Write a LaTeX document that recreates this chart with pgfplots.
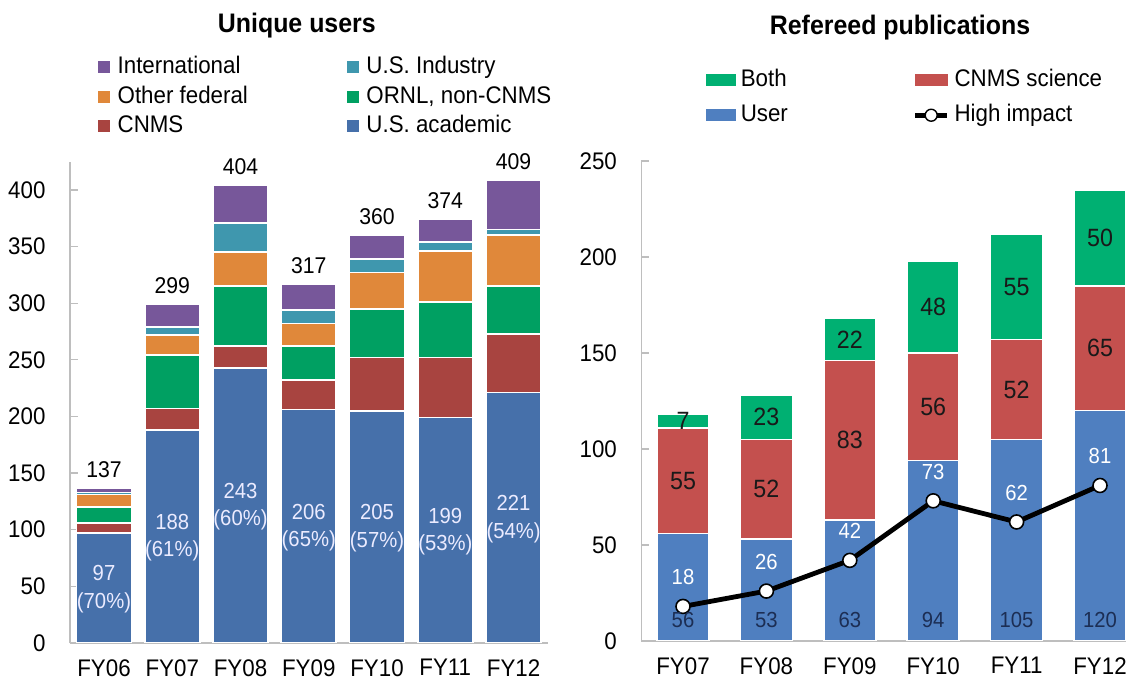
\documentclass[border=0pt]{standalone}
\usepackage{fontspec}
\setmainfont{Liberation Sans}[FakeStretch=0.93]
\usepackage{pgfplots}
\usepackage{pgfplotstable}
\pgfplotsset{compat=1.18}

\definecolor{acad}{RGB}{70,112,170}
\definecolor{cnmsL}{RGB}{168,68,64}
\definecolor{ornl}{RGB}{0,160,98}
\definecolor{fed}{RGB}{224,136,58}
\definecolor{ind}{RGB}{63,151,174}
\definecolor{intl}{RGB}{119,87,154}
\definecolor{userB}{RGB}{79,127,192}
\definecolor{cnmsR}{RGB}{196,80,78}
\definecolor{bothG}{RGB}{0,176,114}
\definecolor{navy}{RGB}{28,46,84}
\definecolor{axgray}{RGB}{190,190,190}

\pgfplotstableread{
x acad cnms ornl fed ind intl total pct
0 97 9 14 11 2 4 137 70
1 188 19 47 18 7 20 299 61
2 243 19 53 30 26 33 404 60
3 206 26 30 20 12 23 317 65
4 205 47 43 32 12 21 360 57
5 199 53 49 45 8 20 374 53
6 221 52 42 45 5 44 409 54
}\users

\pgfplotstableread{
x user cnms both hi
0 56 55 7 18
1 53 52 23 26
2 63 83 22 42
3 94 56 48 73
4 105 52 55 62
5 120 65 50 81
}\pubs

\pgfplotsset{
  /pgf/number format/assume math mode=true,
  geomL/.style={at={(34.94bp,19bp)}, anchor=south west, scale only axis,
    width=238.9bp, height=240.7bp, xmin=-0.5, xmax=6.5, ymin=0, ymax=425},
  geomR/.style={at={(320.65bp,20bp)}, anchor=south west, scale only axis,
    width=242.28bp, height=240bp, xmin=-0.5, xmax=5.31, ymin=0, ymax=250},
  baraxis/.style={axis lines=left, axis line style={-, draw=axgray, line width=0.8bp},
    xtick style={draw=none}, ytick style={draw=axgray, line width=0.6bp},
    major tick length=4bp, tick align=inside,
    /pgf/number format/assume math mode=true,
    tick label style={font=\fontsize{12bp}{14bp}\selectfont},
    yticklabel style={anchor=east, inner sep=0pt, xshift=-12bp},
    xticklabel style={anchor=north, inner sep=0pt, yshift=-8bp},
    title style={font=\bfseries\fontsize{13.4bp}{15bp}\selectfont, anchor=base, inner sep=0pt}},
  lbl/.style={draw=none, mark=none, nodes near coords, point meta=explicit,
    every node near coord/.style={inner sep=0pt, anchor=center, #1}},
}

\begin{document}
\fontsize{12bp}{14bp}\selectfont
\begin{tikzpicture}
\path[use as bounding box] (0,0) rectangle (563bp,340.5bp);

% ---------------- Left: Unique users ----------------
\begin{axis}[geomL, baraxis, ybar stacked, bar width=27.5bp,
  xtick={0,...,6}, xticklabels={FY06,FY07,FY08,FY09,FY10,FY11,FY12},
  ytick={0,50,...,400},
  title={Unique users}, title style={at={(0.475,1)}, yshift=58.4bp}]
\addplot[fill=acad, draw=white, line width=0.8bp] table[x=x,y=acad]{\users};
\addplot[fill=cnmsL, draw=white, line width=0.8bp] table[x=x,y=cnms]{\users};
\addplot[fill=ornl, draw=white, line width=0.8bp] table[x=x,y=ornl]{\users};
\addplot[fill=fed, draw=white, line width=0.8bp] table[x=x,y=fed]{\users};
\addplot[fill=ind, draw=white, line width=0.8bp] table[x=x,y=ind]{\users};
\addplot[fill=intl, draw=white, line width=0.8bp] table[x=x,y=intl]{\users};
\end{axis}

\begin{axis}[geomL, hide axis, clip=false,
  legend columns=2,
  legend style={at={(0.0586,1.219)}, anchor=north west, draw=none, fill=none,
    inner sep=0pt, outer sep=0pt, row sep=3.85bp,
    nodes={inner sep=0pt, text height=8.7bp, text depth=2.2bp, font=\fontsize{12bp}{14bp}\selectfont},
    cells={anchor=west},
    /tikz/every odd column/.style={column sep=4bp},
    /tikz/every even column/.style={column sep=0pt}}]
\addlegendimage{legend image code/.code={\fill[intl] (0bp,-2.75bp) rectangle (5.5bp,2.75bp);}}
\addlegendentry{\makebox[114.5bp][l]{International}}
\addlegendimage{legend image code/.code={\fill[ind] (0bp,-2.75bp) rectangle (5.5bp,2.75bp);}}
\addlegendentry{U.S. Industry}
\addlegendimage{legend image code/.code={\fill[fed] (0bp,-2.75bp) rectangle (5.5bp,2.75bp);}}
\addlegendentry{\makebox[114.5bp][l]{Other federal}}
\addlegendimage{legend image code/.code={\fill[ornl] (0bp,-2.75bp) rectangle (5.5bp,2.75bp);}}
\addlegendentry{ORNL, non-CNMS}
\addlegendimage{legend image code/.code={\fill[cnmsL] (0bp,-2.75bp) rectangle (5.5bp,2.75bp);}}
\addlegendentry{\makebox[114.5bp][l]{CNMS}}
\addlegendimage{legend image code/.code={\fill[acad] (0bp,-2.75bp) rectangle (5.5bp,2.75bp);}}
\addlegendentry{U.S. academic}
% totals
\addplot[lbl={anchor=south, yshift=5bp, text=black, font=\fontsize{11.4bp}{13bp}\selectfont}]
  table[x=x, y=total, meta=total]{\users};
% academic numbers
\addplot[lbl={yshift=7.3bp, text=white!92!blue, font=\fontsize{10.9bp}{13bp}\selectfont}]
  table[x=x, y expr=\thisrow{acad}/2, meta=acad]{\users};
% academic percentages
\addplot[lbl={yshift=-7.3bp, text=white!92!blue, font=\fontsize{10.9bp}{13bp}\selectfont},
  nodes near coords={(\pgfmathprintnumber{\pgfplotspointmeta}\%)}]
  table[x=x, y expr=\thisrow{acad}/2, meta=pct]{\users};
\end{axis}

% ---------------- Right: Refereed publications ----------------
\begin{axis}[geomR, baraxis, ybar stacked, bar width=26bp,
  xtick={0,...,5}, xticklabels={FY07,FY08,FY09,FY10,FY11,FY12},
  ytick={0,50,...,250},
  title={Refereed publications}, title style={at={(0.534,1)}, yshift=57.2bp}]
\addplot[fill=userB, draw=white, line width=0.8bp] table[x=x,y=user]{\pubs};
\addplot[fill=cnmsR, draw=white, line width=0.8bp] table[x=x,y=cnms]{\pubs};
\addplot[fill=bothG, draw=white, line width=0.8bp] table[x=x,y=both]{\pubs};
\end{axis}

\begin{axis}[geomR, hide axis, clip=false,
  legend columns=2,
  legend style={at={(0.1335,1.191)}, anchor=north west, draw=none, fill=none,
    inner sep=0pt, outer sep=0pt, row sep=6.6bp,
    nodes={inner sep=0pt, text height=8.7bp, text depth=2.2bp, font=\fontsize{12bp}{14bp}\selectfont},
    cells={anchor=west},
    /tikz/every odd column/.style={column sep=2.5bp},
    /tikz/every even column/.style={column sep=0pt}}]
\addlegendimage{legend image code/.code={\fill[bothG] (0bp,-2.75bp) rectangle (14.5bp,2.75bp);}}
\addlegendentry{\makebox[86bp][l]{Both}}
\addlegendimage{legend image code/.code={\fill[cnmsR] (0bp,-2.75bp) rectangle (16bp,2.75bp);}}
\addlegendentry{CNMS science}
\addlegendimage{legend image code/.code={\fill[userB] (0bp,-2.75bp) rectangle (14.5bp,2.75bp);}}
\addlegendentry{\makebox[86bp][l]{User}}
\addlegendimage{legend image code/.code={\draw[black, line width=2.4bp] (0bp,0bp) -- (16bp,0bp);
  \draw[black, fill=white, line width=0.7bp] (8bp,0bp) circle (3bp);}}
\addlegendentry{High impact}
% high impact line
\addplot[black, line width=2.4bp, mark=*, mark size=3.5bp,
  mark options={fill=white, draw=black, line width=0.8bp}]
  table[x=x, y=hi]{\pubs};
% labels
\addplot[lbl={yshift=10.5bp, text=navy, font=\fontsize{10.9bp}{13bp}\selectfont}]
  table[x=x, y expr=0, meta=user]{\pubs};
\addplot[lbl={text=black!90, font=\fontsize{12.5bp}{14bp}\selectfont}]
  table[x=x, y expr=\thisrow{user}+\thisrow{cnms}/2, meta=cnms]{\pubs};
\addplot[lbl={text=black!90, font=\fontsize{12.5bp}{14bp}\selectfont}]
  table[x=x, y expr=\thisrow{user}+\thisrow{cnms}+\thisrow{both}/2, meta=both]{\pubs};
\addplot[lbl={yshift=14.5bp, text=white, font=\fontsize{10.9bp}{13bp}\selectfont}]
  table[x=x, y=hi, meta=hi]{\pubs};
\end{axis}
\end{tikzpicture}
\end{document}
